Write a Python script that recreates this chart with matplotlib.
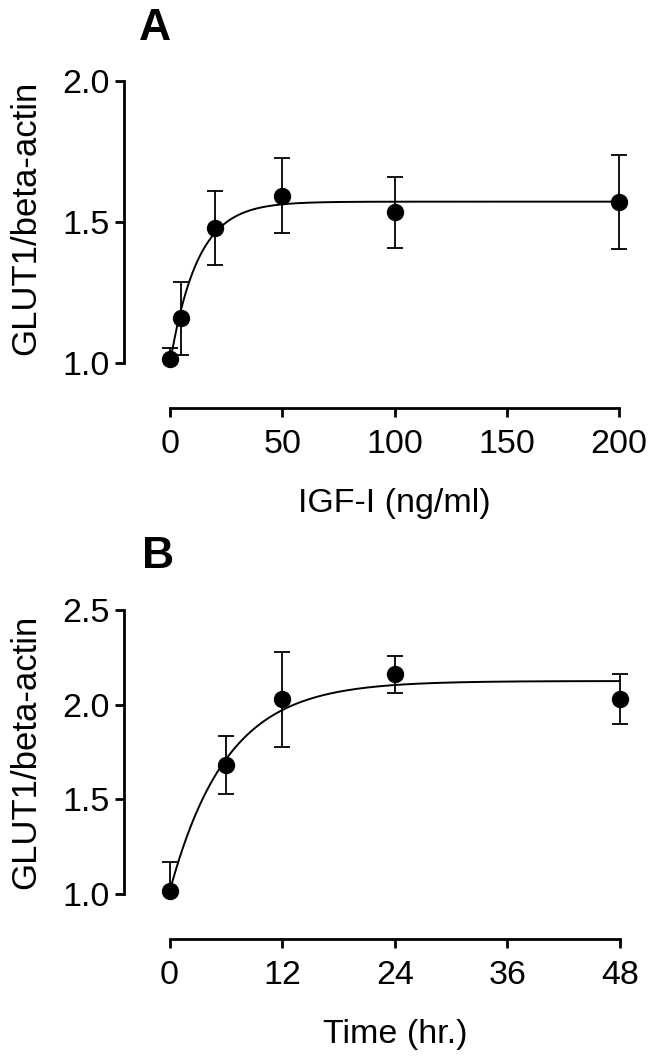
import numpy as np
import matplotlib
matplotlib.use("Agg")
import matplotlib.pyplot as plt
from matplotlib.patches import Rectangle

plt.rcParams['font.family'] = ['Liberation Sans', 'DejaVu Sans']

# ---- Panel A data ----
igf_dose = [0, 5, 20, 50, 100, 200]
igf_mean = [1.014, 1.159, 1.478, 1.593, 1.534, 1.572]
igf_sem = [0.039, 0.128, 0.130, 0.133, 0.125, 0.166]
igf_xticks = [0, 50, 100, 150, 200]
igf_yticks = [1.0, 1.5, 2.0]
# fitted one-phase association parameters (panel A)
fitA_y0, fitA_top, fitA_k = 1.0, 1.572, 0.082

# ---- Panel B data ----
time_hr = [0, 6, 12, 24, 48]
time_mean = [1.016, 1.683, 2.029, 2.160, 2.029]
time_sem = [0.155, 0.154, 0.250, 0.098, 0.133]
time_xticks = [0, 12, 24, 36, 48]
time_yticks = [1.0, 1.5, 2.0, 2.5]
# fitted one-phase association parameters (panel B)
fitB_y0, fitB_top, fitB_k = 1.01, 2.125, 0.165

W, H = 655, 1059
fig = plt.figure(figsize=(W / 100, H / 100), dpi=100)


def px_axes(left, right, top, bottom):
    return fig.add_axes([left / W, 1 - bottom / H, (right - left) / W, (bottom - top) / H])


def frame(ax, left, right, top, bottom, x0px, x0, x1px, x1, y0px, y0, y1px, y1):
    sx = (x1px - x0px) / (x1 - x0)
    sy = (y0px - y1px) / (y1 - y0)
    ax.set_xlim(x0 - (x0px - left) / sx, x1 + (right - x1px) / sx)
    ax.set_ylim(y0 - (bottom - y0px) / sy, y1 + (y1px - top) / sy)


def style(ax, xb, yb, xticks, yticks):
    for s in ['top', 'right']:
        ax.spines[s].set_visible(False)
    for s in ['left', 'bottom']:
        ax.spines[s].set_linewidth(2.0)
        ax.spines[s].set_capstyle('projecting')
    ax.spines['bottom'].set_bounds(*xb)
    ax.spines['left'].set_bounds(*yb)
    ax.set_xticks(xticks)
    ax.set_yticks(yticks)
    ax.set_yticklabels([f"{v:.1f}" for v in yticks])
    ax.tick_params(axis='both', direction='out', length=6.3, width=2.0, labelsize=24.5, colors='black')
    ax.tick_params(axis='x', pad=8.5)
    ax.tick_params(axis='y', pad=4.3)
    ax.patch.set_visible(False)


def draw(ax, x, m, e, y0, top, k, xmax):
    xs = np.linspace(0, xmax, 400)
    ax.plot(xs, y0 + (top - y0) * (1 - np.exp(-k * xs)), color='black', lw=1.4, zorder=2)
    cont = ax.errorbar(x, m, yerr=e, fmt='none', ecolor='black', elinewidth=1.3,
                       capsize=6, capthick=1.3, zorder=3)
    clip = Rectangle((ax.get_xlim()[0], 1.0), 1e4, 1e4, transform=ax.transData)
    for art in cont.lines[1] + cont.lines[2]:
        art.set_clip_path(clip)
    ax.plot(x, m, 'o', color='black', markersize=11.5, zorder=4, clip_on=False)


# Panel A (pixel frame)
axA = px_axes(124, 640, 70, 408)
frame(axA, 124, 640, 70, 408, 170, 0, 619, 200, 363.3, 1.0, 80.7, 2.0)
style(axA, (0, 200), (1.0, 2.0), igf_xticks, igf_yticks)
draw(axA, igf_dose, igf_mean, igf_sem, fitA_y0, fitA_top, fitA_k, 200)

# Panel B
axB = px_axes(124, 640, 598, 939)
frame(axB, 124, 640, 598, 939, 169.5, 0, 620, 48, 894, 1.0, 610, 2.5)
style(axB, (0, 48), (1.0, 2.5), time_xticks, time_yticks)
draw(axB, time_hr, time_mean, time_sem, fitB_y0, fitB_top, fitB_k, 48)

# labels
fig.text(35.5 / W, 1 - 218 / H, "GLUT1/beta-actin", rotation=90, rotation_mode='anchor',
         ha='center', va='baseline', fontsize=25)
fig.text(35.5 / W, 1 - 752 / H, "GLUT1/beta-actin", rotation=90, rotation_mode='anchor',
         ha='center', va='baseline', fontsize=25)
fig.text(394 / W, 1 - 512 / H, "IGF-I (ng/ml)", ha='center', va='baseline', fontsize=24.5)
fig.text(395.5 / W, 1 - 1043 / H, "Time (hr.)", ha='center', va='baseline', fontsize=24.5)
fig.text(139 / W, 1 - 40 / H, "A", ha='left', va='baseline', fontsize=32, fontweight='bold')
fig.text(142 / W, 1 - 568 / H, "B", ha='left', va='baseline', fontsize=32, fontweight='bold')

fig.savefig("out.png", dpi=100)
